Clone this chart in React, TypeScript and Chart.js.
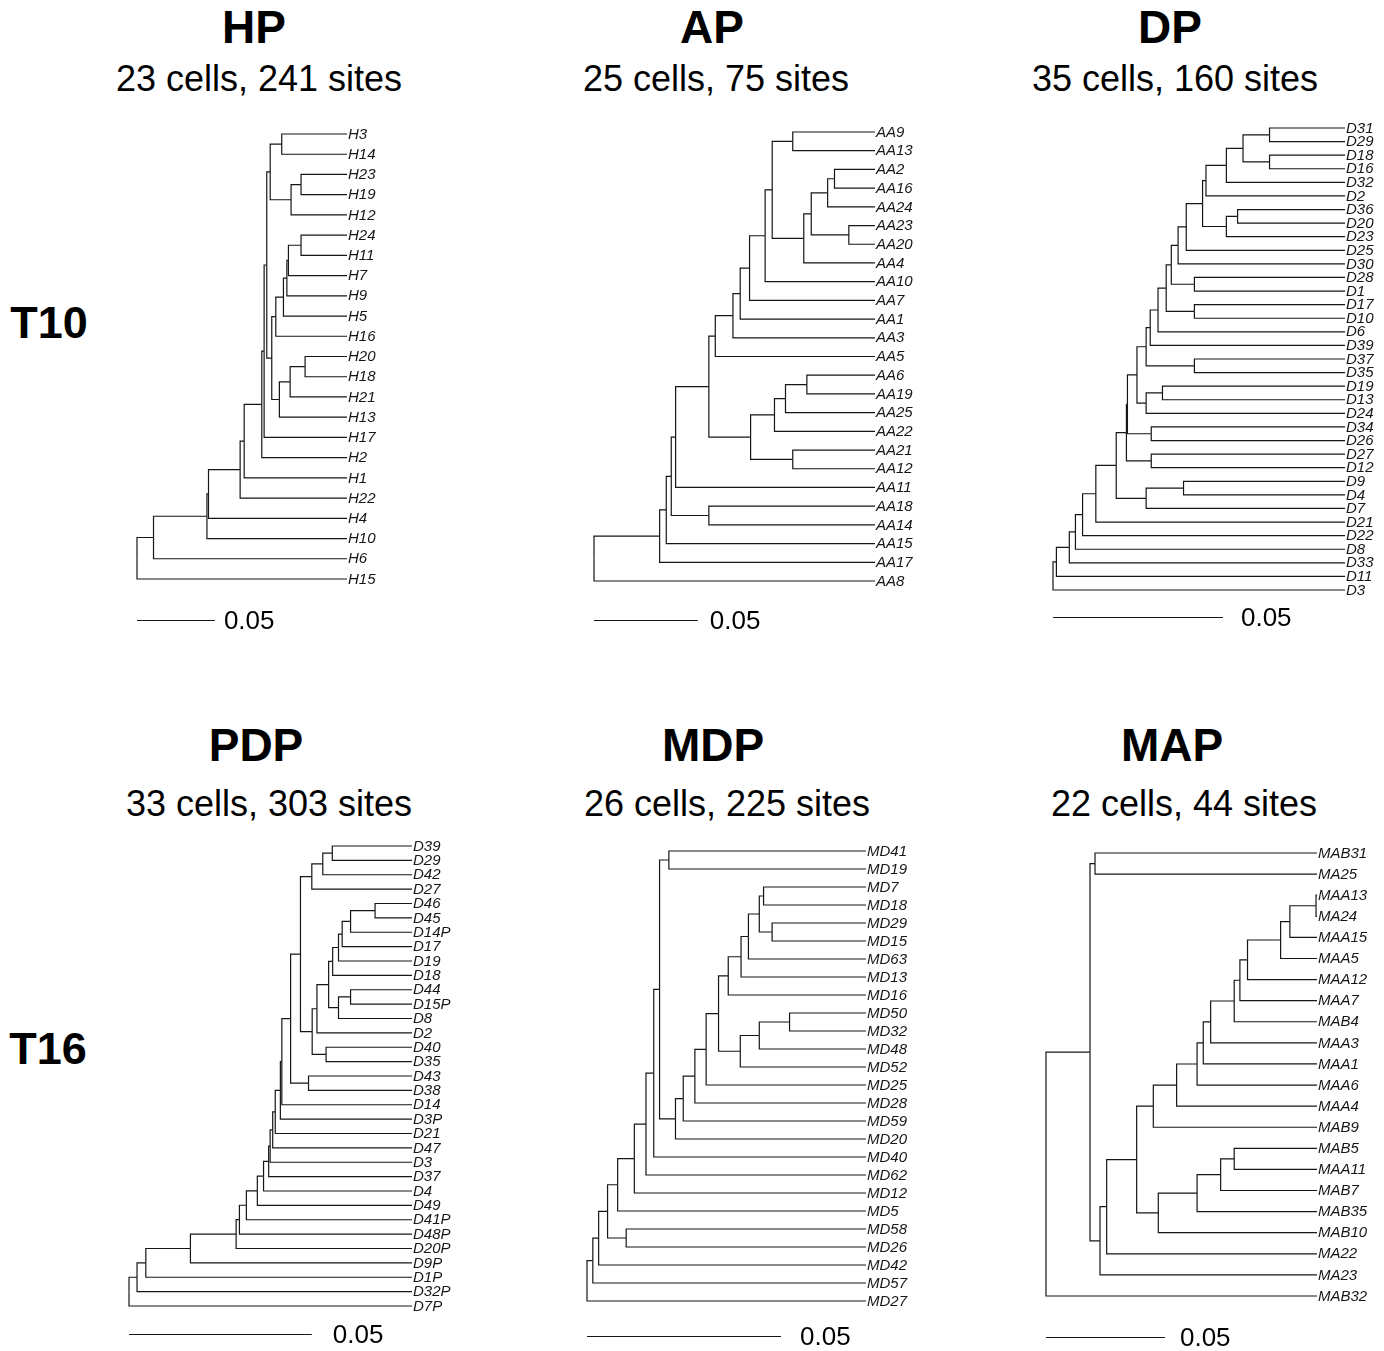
import React, { useEffect, useRef } from "react";
import { Chart, registerables } from "chart.js";

Chart.register(...registerables);

// Each tree: tip labels top-to-bottom, and internal nodes given as
// [first tip index, last tip index, distance from root].
// All tips sit at the same distance from the root (ultrametric trees).

const hpTips = ["H3", "H14", "H23", "H19", "H12", "H24", "H11", "H7", "H9", "H5", "H16", "H20", "H18", "H21", "H13", "H17", "H2", "H1", "H22", "H4", "H10", "H6", "H15"];
const hpTipDepth = 0.1348;
const hpNodes: [number, number, number][] = [
  [0, 22, 0], [0, 21, 0.0106], [0, 20, 0.0449], [0, 19, 0.0459], [0, 18, 0.0662],
  [0, 17, 0.0688], [0, 16, 0.0801], [0, 15, 0.0816], [0, 14, 0.0833], [0, 4, 0.0855],
  [0, 1, 0.0929], [2, 4, 0.0989], [2, 3, 0.1053], [5, 14, 0.0865], [5, 10, 0.0891],
  [5, 9, 0.094], [5, 8, 0.0962], [5, 7, 0.0972], [5, 6, 0.1053], [11, 14, 0.0914],
  [11, 13, 0.0983], [11, 12, 0.1079],
];

const apTips = ["AA9", "AA13", "AA2", "AA16", "AA24", "AA23", "AA20", "AA4", "AA10", "AA7", "AA1", "AA3", "AA5", "AA6", "AA19", "AA25", "AA22", "AA21", "AA12", "AA11", "AA18", "AA14", "AA15", "AA17", "AA8"];
const apTipDepth = 0.1353;
const apNodes: [number, number, number][] = [
  [0, 24, 0], [0, 23, 0.0316], [0, 22, 0.0348], [0, 21, 0.0372], [20, 21, 0.0553],
  [0, 19, 0.0393], [0, 18, 0.0553], [13, 18, 0.0754], [13, 16, 0.0869], [13, 15, 0.0922],
  [13, 14, 0.1025], [17, 18, 0.0957], [0, 12, 0.0584], [0, 11, 0.0669], [0, 10, 0.0704],
  [0, 9, 0.0749], [0, 8, 0.0824], [0, 7, 0.0858], [0, 1, 0.0957], [2, 7, 0.101],
  [2, 6, 0.1046], [2, 4, 0.1125], [2, 3, 0.1158], [5, 6, 0.1227],
];

const dpTips = ["D31", "D29", "D18", "D16", "D32", "D2", "D36", "D20", "D23", "D25", "D30", "D28", "D1", "D17", "D10", "D6", "D39", "D37", "D35", "D19", "D13", "D24", "D34", "D26", "D27", "D12", "D9", "D4", "D7", "D21", "D22", "D8", "D33", "D11", "D3"];
const dpTipDepth = 0.0859;
const dpNodes: [number, number, number][] = [
  [0, 34, 0], [0, 33, 0.001], [0, 32, 0.0048], [0, 31, 0.0066], [0, 30, 0.0087],
  [0, 29, 0.0126], [0, 28, 0.0186], [26, 28, 0.0274], [26, 27, 0.0384], [0, 25, 0.0216],
  [24, 25, 0.0289], [0, 23, 0.0219], [22, 23, 0.0289], [0, 21, 0.0247], [19, 21, 0.0274],
  [19, 20, 0.0322], [0, 18, 0.0274], [17, 18, 0.0416], [0, 16, 0.0286], [0, 15, 0.0309],
  [0, 14, 0.0333], [13, 14, 0.0416], [0, 12, 0.0348], [11, 12, 0.0416], [0, 10, 0.0368],
  [0, 9, 0.0392], [0, 8, 0.044], [6, 8, 0.051], [6, 7, 0.0543], [0, 5, 0.045],
  [0, 4, 0.051], [0, 3, 0.0559], [0, 1, 0.0637], [2, 3, 0.0637],
];

const pdpTips = ["D39", "D29", "D42", "D27", "D46", "D45", "D14P", "D17", "D19", "D18", "D44", "D15P", "D8", "D2", "D40", "D35", "D43", "D38", "D14", "D3P", "D21", "D47", "D3", "D37", "D4", "D49", "D41P", "D48P", "D20P", "D9P", "D1P", "D32P", "D7P"];
const pdpTipDepth = 0.0774;
const pdpNodes: [number, number, number][] = [
  [0, 32, 0], [0, 31, 0.0022], [0, 30, 0.0046], [0, 29, 0.0168], [0, 28, 0.0293],
  [0, 27, 0.0302], [0, 26, 0.0321], [0, 25, 0.0351], [0, 24, 0.0368], [0, 23, 0.0382],
  [0, 22, 0.0386], [0, 21, 0.0393], [0, 20, 0.04], [0, 19, 0.0414], [0, 18, 0.0418],
  [0, 17, 0.0442], [16, 17, 0.0491], [0, 15, 0.0469], [0, 3, 0.05], [0, 2, 0.053],
  [0, 1, 0.0556], [4, 15, 0.0501], [14, 15, 0.0539], [4, 13, 0.0514], [4, 12, 0.0546],
  [4, 9, 0.0557], [4, 8, 0.0573], [4, 7, 0.0583], [4, 6, 0.0606], [4, 5, 0.0673],
  [10, 12, 0.0573], [10, 11, 0.0606],
];

const mdpTips = ["MD41", "MD19", "MD7", "MD18", "MD29", "MD15", "MD63", "MD13", "MD16", "MD50", "MD32", "MD48", "MD52", "MD25", "MD28", "MD59", "MD20", "MD40", "MD62", "MD12", "MD5", "MD58", "MD26", "MD42", "MD57", "MD27"];
const mdpTipDepth = 0.0719;
const mdpNodes: [number, number, number][] = [
  [0, 25, 0], [0, 24, 0.0015], [0, 23, 0.003], [0, 22, 0.0053], [21, 22, 0.0101],
  [0, 20, 0.0079], [0, 19, 0.0122], [0, 18, 0.0152], [0, 17, 0.0172], [0, 16, 0.0187],
  [0, 1, 0.0211], [2, 16, 0.0228], [2, 15, 0.0248], [2, 14, 0.0278], [2, 13, 0.0307],
  [2, 12, 0.0339], [2, 8, 0.0364], [2, 7, 0.0397], [2, 6, 0.0416], [2, 5, 0.0444],
  [2, 3, 0.0455], [4, 5, 0.0477], [9, 12, 0.0395], [9, 11, 0.0444], [9, 10, 0.0522],
];

const mapTips = ["MAB31", "MA25", "MAA13", "MA24", "MAA15", "MAA5", "MAA12", "MAA7", "MAB4", "MAA3", "MAA1", "MAA6", "MAA4", "MAB9", "MAB5", "MAA11", "MAB7", "MAB35", "MAB10", "MA22", "MA23", "MAB32"];
const mapTipDepth = 0.1139;
const mapNodes: [number, number, number][] = [
  [0, 21, 0], [0, 20, 0.0185], [0, 1, 0.0206], [2, 20, 0.0227], [2, 19, 0.0255],
  [2, 18, 0.0381], [2, 13, 0.0451], [2, 12, 0.0549], [2, 11, 0.0635], [2, 10, 0.0661],
  [2, 9, 0.0692], [2, 8, 0.0791], [2, 7, 0.0815], [2, 6, 0.0847], [2, 5, 0.0986],
  [2, 4, 0.1025], [2, 3, 0.1135], [14, 18, 0.0472], [14, 17, 0.0635], [14, 16, 0.0734],
  [14, 15, 0.0791],
];

const scaleBarLength = 0.05;
const scaleBarLabel = "0.05";

const rowLabels = ["T10", "T16"];

const FONT = '"Liberation Sans", Arial, Helvetica, sans-serif';
const INK = "#161616";

type Pt = { x: number; y: number };
type TNode = { x: number; y: number; kids: TNode[] };

// Rebuild the hierarchy from tip ranges; a node sits at the mean height of its children.
function treeEdges(tips: string[], nodes: [number, number, number][], tipDepth: number): Pt[][] {
  const depthOf = new Map<string, number>();
  nodes.forEach(([a, b, d]) => depthOf.set(a + ":" + b, d));
  const make = (a: number, b: number): TNode => {
    if (a === b) return { x: tipDepth, y: a, kids: [] };
    const kids: TNode[] = [];
    let i = a;
    while (i <= b) {
      let end = i;
      for (const [s, e] of nodes) {
        if (s === i && e <= b && e > end && !(s === a && e === b)) end = e;
      }
      kids.push(make(i, end));
      i = end + 1;
    }
    const y = kids.reduce((acc, k) => acc + k.y, 0) / kids.length;
    return { x: depthOf.get(a + ":" + b) ?? 0, y, kids };
  };
  const root = make(0, tips.length - 1);
  const edges: Pt[][] = [];
  const walk = (n: TNode) => {
    n.kids.forEach((k) => {
      edges.push([
        { x: n.x, y: n.y },
        { x: n.x, y: k.y },
        { x: k.x, y: k.y },
      ]);
      walk(k);
    });
  };
  walk(root);
  return edges;
}

type Panel = {
  title: string;
  subtitle: string;
  tips: string[];
  nodes: [number, number, number][];
  tipDepth: number;
  rootX: number;
  tipX: number;
  topY: number;
  bottomY: number;
  barY: number;
  barTextGap: number;
  titleX: number;
  titleY: number;
  subX: number;
  subY: number;
};

const panels: Panel[] = [
  { title: "HP", subtitle: "23 cells, 241 sites", tips: hpTips, nodes: hpNodes, tipDepth: hpTipDepth,
    rootX: 137, tipX: 347, topY: 134, bottomY: 579, barY: 620, barTextGap: 9, titleX: 254, titleY: 27, subX: 259, subY: 79 },
  { title: "AP", subtitle: "25 cells, 75 sites", tips: apTips, nodes: apNodes, tipDepth: apTipDepth,
    rootX: 594, tipX: 875, topY: 132, bottomY: 581, barY: 620, barTextGap: 12, titleX: 712, titleY: 27, subX: 716, subY: 79 },
  { title: "DP", subtitle: "35 cells, 160 sites", tips: dpTips, nodes: dpNodes, tipDepth: dpTipDepth,
    rootX: 1053, tipX: 1345, topY: 128, bottomY: 590, barY: 617, barTextGap: 18, titleX: 1170, titleY: 27, subX: 1175, subY: 79 },
  { title: "PDP", subtitle: "33 cells, 303 sites", tips: pdpTips, nodes: pdpNodes, tipDepth: pdpTipDepth,
    rootX: 129, tipX: 412, topY: 846, bottomY: 1306, barY: 1334, barTextGap: 21, titleX: 256, titleY: 745, subX: 269, subY: 804 },
  { title: "MDP", subtitle: "26 cells, 225 sites", tips: mdpTips, nodes: mdpNodes, tipDepth: mdpTipDepth,
    rootX: 587, tipX: 866, topY: 851, bottomY: 1301, barY: 1336, barTextGap: 19, titleX: 713, titleY: 745, subX: 727, subY: 804 },
  { title: "MAP", subtitle: "22 cells, 44 sites", tips: mapTips, nodes: mapNodes, tipDepth: mapTipDepth,
    rootX: 1046, tipX: 1317, topY: 853, bottomY: 1296, barY: 1337, barTextGap: 15, titleX: 1172, titleY: 745, subX: 1184, subY: 804 },
];

const PAD_L = 6;
const PAD_R = 80;
const PAD_T = 12;
const PAD_B = 62;

function TreeChart({ p }: { p: Panel }) {
  const ref = useRef<HTMLCanvasElement | null>(null);
  const width = p.tipX - p.rootX + PAD_L + PAD_R;
  const height = p.bottomY - p.topY + PAD_T + PAD_B;

  useEffect(() => {
    if (!ref.current) return;
    const edges = treeEdges(p.tips, p.nodes, p.tipDepth);
    const decor = {
      id: "treeDecor",
      afterDatasetsDraw(chart: any) {
        const { ctx, chartArea } = chart;
        const xs = chart.scales.x;
        const ys = chart.scales.y;
        ctx.save();
        // tip labels
        ctx.fillStyle = INK;
        ctx.font = `italic 15px ${FONT}`;
        ctx.textAlign = "left";
        ctx.textBaseline = "middle";
        const lx = xs.getPixelForValue(p.tipDepth) + 1;
        p.tips.forEach((t, i) => ctx.fillText(t, lx, ys.getPixelForValue(i) + 0.5));
        // scale bar
        const by = Math.round(chartArea.bottom + (p.barY - p.bottomY)) + 0.5;
        const x0 = xs.getPixelForValue(0);
        const x1 = xs.getPixelForValue(scaleBarLength);
        ctx.strokeStyle = INK;
        ctx.lineWidth = 1.2;
        ctx.beginPath();
        ctx.moveTo(x0, by);
        ctx.lineTo(x1, by);
        ctx.stroke();
        ctx.fillStyle = "#000";
        ctx.font = `26px ${FONT}`;
        ctx.fillText(scaleBarLabel, x1 + p.barTextGap, by + 1);
        ctx.restore();
      },
    };
    const chart = new Chart(ref.current, {
      type: "scatter",
      data: {
        datasets: edges.map((seg) => ({
          data: seg,
          showLine: true,
          borderColor: INK,
          borderWidth: 1.2,
          pointRadius: 0,
          fill: false,
          tension: 0,
          clip: false as any,
        })),
      },
      options: {
        animation: false,
        responsive: false,
        devicePixelRatio: 1,
        events: [],
        layout: { padding: { left: PAD_L, right: PAD_R, top: PAD_T, bottom: PAD_B } },
        plugins: { legend: { display: false }, tooltip: { enabled: false } },
        scales: {
          x: { type: "linear", display: false, min: 0, max: p.tipDepth },
          y: { type: "linear", display: false, min: 0, max: p.tips.length - 1, reverse: true },
        },
      },
      plugins: [decor],
    });
    return () => chart.destroy();
  }, [p]);

  return (
    <canvas
      ref={ref}
      width={width}
      height={height}
      style={{ position: "absolute", left: p.rootX - PAD_L, top: p.topY - PAD_T, width, height }}
    />
  );
}

function Label({ text, x, y, size, bold }: { text: string; x: number; y: number; size: number; bold?: boolean }) {
  return (
    <div
      style={{
        position: "absolute",
        left: x,
        top: y - size * 0.49,
        transform: "translateX(-50%)",
        whiteSpace: "nowrap",
        fontFamily: FONT,
        fontSize: size,
        fontWeight: bold ? 700 : 400,
        lineHeight: 1,
        color: "#000",
      }}
    >
      {text}
    </div>
  );
}

export default function App() {
  return (
    <div style={{ position: "absolute", left: 0, top: 0, width: 1384, height: 1351, background: "#fff", overflow: "hidden" }}>
      {panels.map((p) => (
        <React.Fragment key={p.title}>
          <Label text={p.title} x={p.titleX} y={p.titleY} size={46} bold />
          <Label text={p.subtitle} x={p.subX} y={p.subY} size={36} />
          <TreeChart p={p} />
        </React.Fragment>
      ))}
      <Label text={rowLabels[0]} x={49} y={322} size={45} bold />
      <Label text={rowLabels[1]} x={48} y={1048} size={45} bold />
    </div>
  );
}
